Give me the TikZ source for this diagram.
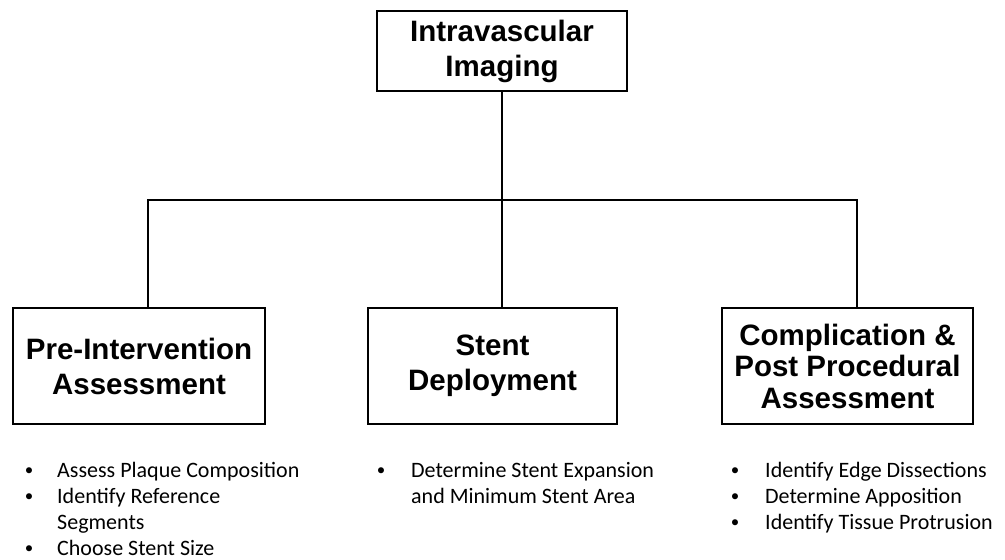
\documentclass[tikz,border=0pt]{standalone}
\usepackage{fontspec}
\setmainfont{Liberation Sans}
\newfontfamily\listfont{Carlito}
\begin{document}
\begin{tikzpicture}[x=1pt,y=-1pt,
  box/.style={draw,line width=2pt,align=center,font=\fontsize{29.5}{35}\selectfont\bfseries,inner sep=0pt,minimum height=116pt},
  conn/.style={line width=2pt},
  item/.style={anchor=base west,inner sep=0pt,font=\fontsize{22}{26}\listfont},
  bul/.style={anchor=base,inner sep=0pt,font=\fontsize{17}{26}\listfont}]
\useasboundingbox (0,0) rectangle (1005,560);
\node[box,minimum width=250pt,minimum height=80pt] (top) at (502,51) {Intravascular\\Imaging};
\node[box,minimum width=252pt] (left) at (139,366) {Pre-Intervention\\Assessment};
\node[box,minimum width=249pt] (mid) at (492.5,366) {Stent\\Deployment};
\node[box,minimum width=251pt,font=\fontsize{29.5}{31.5}\selectfont\bfseries] (right) at (847.5,366) {Complication \&\\Post Procedural\\Assessment};
\coordinate (bl) at (148,200);
\coordinate (br) at (857,200);
\draw[conn] (top.south) -- (top.south |- bl);
\draw[conn] (left.north -| bl) -- (bl) -- (br) -- (right.north -| br);
\draw[conn] (mid.north -| top.south) -- (top.south |- bl);
% left list
\node[bul] (lb1) at (29,475) {•};
\node[item] (l1) at (57,477) {Assess Plaque Composition};
\node[bul] (lb2) at (29,501) {•};
\node[item] (l2) at (57,503) {Identify Reference};
\node[item] (l3) at (57,529) {Segments};
\node[bul] (lb4) at (29,553) {•};
\node[item] (l4) at (57,555) {Choose Stent Size};
% middle list
\node[bul] (mb1) at (381,475) {•};
\node[item] (m1) at (411,477) {Determine Stent Expansion};
\node[item] (m2) at (411,503) {and Minimum Stent Area};
% right list
\node[bul] (rb1) at (735,475) {•};
\node[item] (r1) at (765,477) {Identify Edge Dissections};
\node[bul] (rb2) at (735,501) {•};
\node[item] (r2) at (765,503) {Determine Apposition};
\node[bul] (rb3) at (735,527) {•};
\node[item] (r3) at (765,529) {Identify Tissue Protrusion};
\end{tikzpicture}
\end{document}
